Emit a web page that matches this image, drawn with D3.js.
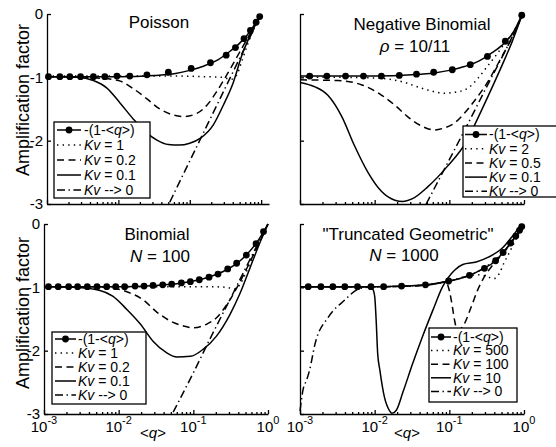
<!DOCTYPE html>
<html>
<head>
<meta charset="utf-8">
<script src="https://cdn.jsdelivr.net/npm/d3@7"></script>
<style>
  body { margin: 0; background: #fff; }
  svg { display: block; font-family: "Liberation Sans", Arial, sans-serif; }
</style>
</head>
<body>
<svg id="chart" width="556" height="447"></svg>
<script>
// ── AXES ─────────────────────────────────────
const xTickExp = [-3, -2, -1, 0];
const yTicks = [0, -1, -2, -3];

// ── POISSON (log10 <q>, amplification factor) ──
const poisMeanL = [-3, -2, -1.5, -1.2, -1.0, -0.8, -0.6, -0.45, -0.3, -0.2, -0.1, -0.02];
const poisMeanV = [-0.99, -0.99, -0.97, -0.94, -0.89, -0.82, -0.72, -0.6, -0.46, -0.34, -0.18, -0.03];
const poisMarkL = [-2.98, -2.82, -2.68, -2.53, -2.35, -2.19, -2.02, -1.84, -1.6, -1.3, -0.98, -0.71, -0.49, -0.36, -0.24, -0.15, -0.07, -0.02];
const poisMarkV = [-0.99, -0.99, -0.99, -0.99, -0.99, -0.99, -0.98, -0.98, -0.96, -0.92, -0.86, -0.77, -0.65, -0.53, -0.39, -0.26, -0.13, -0.04];
const poisKvA_L = [-3, -2, -1.2, -0.8, -0.55, -0.42, -0.35, -0.27, -0.18, -0.1, -0.03];
const poisKvA_V = [-0.98, -0.98, -0.98, -0.99, -1.0, -1.03, -0.98, -0.74, -0.45, -0.22, -0.05];
const poisKvB_L = [-3, -2.6, -2.3, -2.0, -1.79, -1.6, -1.42, -1.27, -1.09, -0.9, -0.76, -0.62, -0.45, -0.3, -0.15, -0.02];
const poisKvB_V = [-0.99, -0.99, -1.01, -1.05, -1.18, -1.34, -1.5, -1.58, -1.62, -1.57, -1.44, -1.22, -0.9, -0.6, -0.3, -0.04];
const poisKvC_L = [-3, -2.58, -2.35, -2.16, -1.98, -1.79, -1.6, -1.46, -1.3, -1.15, -1.0, -0.85, -0.67, -0.53, -0.39, -0.27, -0.15, -0.02];
const poisKvC_V = [-0.99, -1.0, -1.05, -1.17, -1.4, -1.66, -1.88, -1.99, -2.06, -2.07, -2.04, -1.96, -1.75, -1.44, -1.08, -0.65, -0.33, -0.04];
const poisKv0_L = [-1.28, -1.0, -0.75, -0.5, -0.25, -0.02];
const poisKv0_V = [-2.97, -2.32, -1.74, -1.16, -0.58, -0.05];
const poisKvLabels = ['1', '0.2', '0.1'];

// ── NEGATIVE BINOMIAL ────────────────────────
const nbMeanL = [-3, -2, -1.5, -1.2, -1.0, -0.8, -0.6, -0.45, -0.3, -0.15, -0.03];
const nbMeanV = [-0.98, -0.98, -0.96, -0.93, -0.89, -0.83, -0.74, -0.63, -0.5, -0.3, -0.02];
const nbMarkL = [-2.87, -2.64, -2.39, -2.15, -1.91, -1.67, -1.44, -1.21, -0.96, -0.72, -0.49, -0.25, -0.03];
const nbMarkV = [-0.98, -0.98, -0.98, -0.98, -0.98, -0.97, -0.95, -0.92, -0.88, -0.8, -0.67, -0.43, -0.02];
const nbKvA_L = [-3, -2.5, -2.0, -1.8, -1.6, -1.45, -1.29, -1.07, -0.9, -0.75, -0.62, -0.5, -0.38, -0.25, -0.12, -0.03];
const nbKvA_V = [-1.0, -1.0, -1.01, -1.03, -1.08, -1.14, -1.2, -1.25, -1.23, -1.17, -1.02, -0.84, -0.66, -0.45, -0.24, -0.03];
const nbKvB_L = [-3, -2.5, -2.17, -1.91, -1.73, -1.56, -1.37, -1.2, -1.07, -0.93, -0.8, -0.65, -0.5, -0.3, -0.15, -0.03];
const nbKvB_V = [-1.04, -1.05, -1.12, -1.28, -1.44, -1.62, -1.77, -1.83, -1.8, -1.72, -1.57, -1.35, -1.1, -0.68, -0.35, -0.03];
const nbKvC_L = [-3, -2.8, -2.63, -2.44, -2.27, -2.09, -1.91, -1.73, -1.62, -1.5, -1.29, -1.03, -0.76, -0.64, -0.47, -0.29, -0.16, -0.03];
const nbKvC_V = [-1.08, -1.15, -1.28, -1.62, -2.08, -2.5, -2.8, -2.94, -2.96, -2.92, -2.73, -2.41, -1.99, -1.7, -1.27, -0.8, -0.44, -0.03];
const nbKv0_L = [-1.31, -1.0, -0.75, -0.5, -0.25, -0.03];
const nbKv0_V = [-3.0, -2.3, -1.73, -1.15, -0.58, -0.05];
const nbKvLabels = ['2', '0.5', '0.1'];

// ── BINOMIAL N = 100 ─────────────────────────
const binMeanL = [-3, -2, -1.5, -1.2, -1.0, -0.8, -0.6, -0.45, -0.3, -0.15, 0];
const binMeanV = [-0.99, -0.99, -0.97, -0.94, -0.9, -0.84, -0.75, -0.65, -0.5, -0.29, 0];
const binMarkL = [-2.94, -2.81, -2.67, -2.55, -2.42, -2.29, -2.16, -2.04, -1.92, -1.78, -1.66, -1.54, -1.41, -1.29, -1.16, -1.04, -0.92, -0.79, -0.67, -0.54, -0.42, -0.29, -0.16, -0.06];
const binMarkV = [-0.99, -0.99, -0.99, -0.99, -0.99, -0.99, -0.99, -0.99, -0.99, -0.98, -0.98, -0.97, -0.96, -0.95, -0.93, -0.91, -0.88, -0.84, -0.79, -0.71, -0.62, -0.49, -0.31, -0.12];
const binKvA_L = [-3, -1.5, -0.8, -0.55, -0.45, -0.38, -0.3, -0.2, -0.1, 0];
const binKvA_V = [-0.99, -0.99, -0.99, -1.0, -1.03, -0.96, -0.78, -0.5, -0.24, 0];
const binKvB_L = [-3, -2.4, -2.1, -1.89, -1.67, -1.49, -1.31, -1.13, -1.0, -0.82, -0.69, -0.55, -0.4, -0.25, -0.1, 0];
const binKvB_V = [-0.99, -0.99, -1.01, -1.07, -1.2, -1.39, -1.53, -1.61, -1.64, -1.58, -1.48, -1.27, -0.97, -0.62, -0.25, 0];
const binKvC_L = [-3, -2.6, -2.25, -2.08, -1.89, -1.71, -1.54, -1.36, -1.22, -1.04, -0.87, -0.69, -0.51, -0.38, -0.24, -0.11, 0];
const binKvC_V = [-0.99, -1.0, -1.05, -1.14, -1.35, -1.58, -1.85, -2.03, -2.1, -2.09, -1.98, -1.77, -1.43, -1.11, -0.69, -0.3, 0];
const binKv0_L = [-1.27, -1.0, -0.75, -0.5, -0.25, 0];
const binKv0_V = [-2.97, -2.35, -1.75, -1.17, -0.58, 0];
const binKvLabels = ['1', '0.2', '0.1'];

// ── TRUNCATED GEOMETRIC N = 1000 ─────────────
const tgMeanL = [-3, -2, -1.6, -1.3, -1.0, -0.75, -0.55, -0.4, -0.28, -0.18, -0.1, -0.03];
const tgMeanV = [-0.99, -0.99, -0.98, -0.96, -0.9, -0.82, -0.71, -0.6, -0.45, -0.3, -0.17, -0.04];
const tgMarkL = [-2.89, -2.72, -2.56, -2.4, -2.23, -2.05, -1.88, -1.64, -1.32, -1.01, -0.73, -0.53, -0.38, -0.28, -0.18, -0.11, -0.06, -0.03];
const tgMarkV = [-0.99, -0.99, -0.99, -0.99, -0.99, -0.99, -0.99, -0.98, -0.96, -0.9, -0.81, -0.7, -0.58, -0.45, -0.3, -0.19, -0.1, -0.04];
const tgKvA_L = [-3, -2, -1.3, -1.0, -0.75, -0.6, -0.5, -0.4, -0.33, -0.27, -0.2, -0.12, -0.05];
const tgKvA_V = [-0.99, -0.99, -0.96, -0.9, -0.82, -0.8, -0.83, -0.86, -0.78, -0.62, -0.46, -0.27, -0.1];
const tgKvB_L = [-3, -2, -1.5, -1.2, -1.05, -1.0, -0.96, -0.93, -0.89, -0.85, -0.8, -0.71, -0.62, -0.53, -0.44, -0.36, -0.25, -0.15, -0.07, -0.03];
const tgKvB_V = [-0.99, -0.99, -0.98, -0.95, -0.91, -1.05, -1.3, -1.52, -1.68, -1.66, -1.58, -1.32, -1.04, -0.83, -0.68, -0.57, -0.42, -0.26, -0.12, -0.04];
const tgKvC_L = [-3, -2.5, -2.1, -2.03, -2.0, -1.98, -1.96, -1.93, -1.87, -1.8, -1.77, -1.71, -1.62, -1.49, -1.36, -1.22, -1.09, -0.93, -0.82, -0.64, -0.47, -0.29, -0.16, -0.07, -0.03];
const tgKvC_V = [-0.99, -0.99, -0.99, -1.02, -1.14, -1.52, -2.04, -2.31, -2.73, -2.95, -2.99, -2.94, -2.65, -2.2, -1.78, -1.36, -0.99, -0.73, -0.64, -0.6, -0.52, -0.38, -0.2, -0.06, 0];
const tgKv0_L = [-3.0, -2.96, -2.91, -2.87, -2.8, -2.62, -2.4, -2.24, -2.1, -1.8, -1.4, -1.0, -0.6, -0.3, -0.1, -0.03];
const tgKv0_V = [-2.95, -2.62, -2.46, -2.3, -1.9, -1.47, -1.2, -1.04, -1.0, -0.99, -0.97, -0.9, -0.74, -0.47, -0.18, -0.04];
const tgKvLabels = ['500', '100', '10'];

// ── STYLES ───────────────────────────────────
const DOT = '1.4,4.2';
const DASH = '7,4.5';
const DASHDOT = '8,3.5,1.4,3.5';
const FONT = '"Liberation Sans", Arial, sans-serif';
const LW = 1.5;

const svg = d3.select('#chart');

// ── PANEL ────────────────────────────────────
function drawPanel(p) {
  const x = d3.scaleLog().domain([1e-3, Math.pow(10, p.xMaxExp)]).range([p.x0, p.x1]);
  const y = d3.scaleLinear().domain([0, -3]).range([p.y0, p.y1]);
  const g = svg.append('g');

  const line = d3.line()
    .x(d => x(Math.pow(10, d[0])))
    .y(d => y(d[1]))
    .curve(d3.curveMonotoneX);

  // axes (inward ticks)
  const minor = [];
  [-3, -2, -1].forEach(e => { for (let k = 2; k < 10; k++) minor.push(k * Math.pow(10, e)); });

  const xa = g.append('g').attr('transform', `translate(0,${p.y1})`)
    .call(d3.axisBottom(x).tickValues(xTickExp.map(e => Math.pow(10, e)))
      .tickSize(-4).tickSizeOuter(0).tickFormat(''));
  const xm = g.append('g').attr('transform', `translate(0,${p.y1})`)
    .call(d3.axisBottom(x).tickValues(minor).tickSize(-2).tickSizeOuter(0).tickFormat(''));
  xm.select('.domain').remove();

  const ya = g.append('g').attr('transform', `translate(${p.x0},0)`)
    .call(d3.axisLeft(y).tickValues(yTicks).tickSize(-4).tickSizeOuter(0)
      .tickPadding(4).tickFormat(p.yLabels ? (d => String(d)) : ''));

  [xa, xm, ya].forEach(a => {
    a.selectAll('path, line').attr('stroke', '#000').attr('stroke-width', 1.3);
  });
  ya.selectAll('text').attr('font-size', 15).attr('font-family', FONT).attr('fill', '#000');

  // x tick labels
  if (p.xLabels) {
    xTickExp.forEach(e => {
      const t = g.append('text')
        .attr('x', x(Math.pow(10, e)))
        .attr('y', p.y1 + 18)
        .attr('text-anchor', 'middle')
        .attr('font-size', 15);
      t.append('tspan').text('10');
      t.append('tspan').attr('dy', -8).attr('font-size', 11).text(String(e));
    });
    const ql = g.append('text')
      .attr('x', p.qLabelX)
      .attr('y', p.y1 + 24)
      .attr('text-anchor', 'middle')
      .attr('font-size', 15);
    ql.append('tspan').text('<');
    ql.append('tspan').attr('font-style', 'italic').text('q');
    ql.append('tspan').text('>');
  }

  // curves: mean line with markers, then Kv series
  const curves = [
    { d: d3.zip(p.meanL, p.meanV), dash: null },
    { d: d3.zip(p.aL, p.aV), dash: DOT },
    { d: d3.zip(p.bL, p.bV), dash: DASH },
    { d: d3.zip(p.cL, p.cV), dash: null },
    { d: d3.zip(p.zL, p.zV), dash: DASHDOT }
  ];

  curves.forEach(c => {
    g.append('path')
      .datum(c.d)
      .attr('d', line)
      .attr('fill', 'none')
      .attr('stroke', '#000')
      .attr('stroke-width', LW)
      .attr('stroke-dasharray', c.dash);
  });

  g.selectAll('circle.mark')
    .data(d3.zip(p.markL, p.markV))
    .enter()
    .append('circle')
    .attr('class', 'mark')
    .attr('cx', d => x(Math.pow(10, d[0])))
    .attr('cy', d => y(d[1]))
    .attr('r', 3.4)
    .attr('fill', '#000');

  // titles
  p.titles.forEach(t => {
    const el = g.append('text')
      .attr('x', t.x)
      .attr('y', t.y)
      .attr('text-anchor', 'middle')
      .attr('font-size', 17);
    t.parts.forEach(([s, it]) => {
      el.append('tspan').attr('font-style', it ? 'italic' : null).text(s);
    });
  });

  // legend
  const L = p.legend;
  const lg = g.append('g');
  lg.append('rect')
    .attr('x', L.x).attr('y', L.y)
    .attr('width', L.w).attr('height', L.h)
    .attr('fill', '#fff')
    .attr('stroke', '#000')
    .attr('stroke-width', 1.3);

  const rows = [null, ...p.kvLabels, '-->'];
  const dashes = [null, DOT, DASH, null, DASHDOT];

  rows.forEach((r, i) => {
    const ry = L.row0 + i * L.step;
    lg.append('line')
      .attr('x1', L.lx0).attr('x2', L.lx1)
      .attr('y1', ry).attr('y2', ry)
      .attr('stroke', '#000')
      .attr('stroke-width', LW)
      .attr('stroke-dasharray', dashes[i]);
    if (i === 0) {
      lg.append('circle')
        .attr('cx', (L.lx0 + L.lx1) / 2)
        .attr('cy', ry)
        .attr('r', 3.4);
    }
    const t = lg.append('text')
      .attr('x', L.tx)
      .attr('y', ry + 4.8)
      .attr('font-size', 14);
    if (i === 0) {
      t.append('tspan').text('-(1-<');
      t.append('tspan').attr('font-style', 'italic').text('q');
      t.append('tspan').text('>)');
    } else {
      t.append('tspan').attr('font-style', 'italic').text('Kv');
      t.append('tspan').text(r === '-->' ? ' --> 0' : ' = ' + r);
    }
  });
}

// ── Y LABELS ─────────────────────────────────
[100, 313].forEach(cy => {
  svg.append('text')
    .attr('transform', `translate(29,${cy}) rotate(-90)`)
    .attr('text-anchor', 'middle')
    .attr('font-size', 18)
    .text('Amplification factor');
});

// ── PANELS ───────────────────────────────────
drawPanel({
  x0: 47, x1: 269, xMaxExp: 0.11, y0: 14, y1: 204,
  yLabels: true, xLabels: false,
  meanL: poisMeanL, meanV: poisMeanV, markL: poisMarkL, markV: poisMarkV,
  aL: poisKvA_L, aV: poisKvA_V, bL: poisKvB_L, bV: poisKvB_V,
  cL: poisKvC_L, cV: poisKvC_V, zL: poisKv0_L, zV: poisKv0_V,
  kvLabels: poisKvLabels,
  titles: [{ x: 159, y: 28, parts: [['Poisson', false]] }],
  legend: { x: 54, y: 122, w: 96, h: 76, row0: 130, step: 15, lx0: 57, lx1: 81, tx: 84 }
});

drawPanel({
  x0: 300, x1: 524, xMaxExp: 0, y0: 14, y1: 204,
  yLabels: false, xLabels: false,
  meanL: nbMeanL, meanV: nbMeanV, markL: nbMarkL, markV: nbMarkV,
  aL: nbKvA_L, aV: nbKvA_V, bL: nbKvB_L, bV: nbKvB_V,
  cL: nbKvC_L, cV: nbKvC_V, zL: nbKv0_L, zV: nbKv0_V,
  kvLabels: nbKvLabels,
  titles: [
    { x: 422, y: 30, parts: [['Negative Binomial', false]] },
    { x: 415, y: 52, parts: [['ρ', true], [' = 10/11', false]] }
  ],
  legend: { x: 463, y: 126, w: 96, h: 71, row0: 134.5, step: 14.2, lx0: 465, lx1: 487, tx: 489 }
});

drawPanel({
  x0: 44, x1: 268, xMaxExp: 0, y0: 224, y1: 414,
  yLabels: true, xLabels: true, qLabelX: 153,
  meanL: binMeanL, meanV: binMeanV, markL: binMarkL, markV: binMarkV,
  aL: binKvA_L, aV: binKvA_V, bL: binKvB_L, bV: binKvB_V,
  cL: binKvC_L, cV: binKvC_V, zL: binKv0_L, zV: binKv0_V,
  kvLabels: binKvLabels,
  titles: [
    { x: 157, y: 240, parts: [['Binomial', false]] },
    { x: 160, y: 262, parts: [['N', true], [' = 100', false]] }
  ],
  legend: { x: 52, y: 332, w: 94, h: 72, row0: 339, step: 14, lx0: 55, lx1: 76, tx: 78 }
});

drawPanel({
  x0: 300, x1: 524, xMaxExp: 0, y0: 224, y1: 414,
  yLabels: false, xLabels: true, qLabelX: 407,
  meanL: tgMeanL, meanV: tgMeanV, markL: tgMarkL, markV: tgMarkV,
  aL: tgKvA_L, aV: tgKvA_V, bL: tgKvB_L, bV: tgKvB_V,
  cL: tgKvC_L, cV: tgKvC_V, zL: tgKv0_L, zV: tgKv0_V,
  kvLabels: tgKvLabels,
  titles: [
    { x: 408, y: 240, parts: [['"Truncated Geometric"', false]] },
    { x: 404, y: 261, parts: [['N', true], [' = 1000', false]] }
  ],
  legend: { x: 429, y: 328, w: 88, h: 74, row0: 337, step: 13.6, lx0: 431, lx1: 451, tx: 453 }
});
</script>
</body>
</html>
